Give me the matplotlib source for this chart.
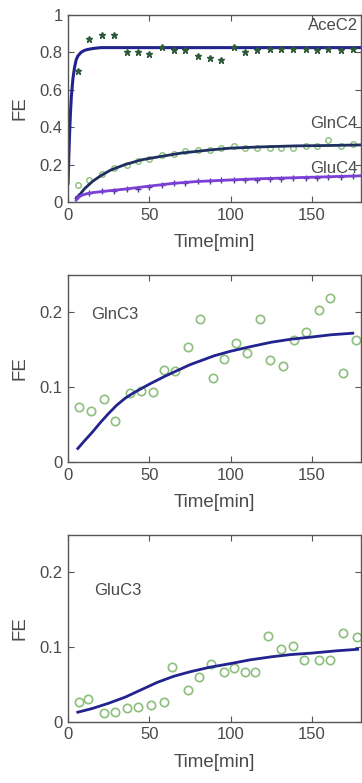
import matplotlib
matplotlib.use("Agg")
from matplotlib import pyplot as plt

plt.rcParams['font.family'] = ['Liberation Sans', 'DejaVu Sans']

# sample times (min)
t_top = [6, 13, 21, 28, 36, 43, 50, 58, 65, 72, 80, 87, 94, 102, 109, 116,
         124, 131, 138, 146, 153, 160, 168, 175]

ace_c2 = [0.70, 0.87, 0.89, 0.89, 0.80, 0.80, 0.79, 0.83, 0.81, 0.81, 0.78, 0.77,
          0.76, 0.83, 0.80, 0.81, 0.815, 0.815, 0.82, 0.815, 0.81, 0.815, 0.81, 0.815]
gln_c4 = [0.09, 0.12, 0.15, 0.18, 0.20, 0.22, 0.23, 0.25, 0.255, 0.27, 0.28, 0.28,
          0.29, 0.30, 0.29, 0.29, 0.29, 0.29, 0.29, 0.30, 0.30, 0.33, 0.30, 0.31]
glu_c4 = [0.03, 0.05, 0.06, 0.06, 0.07, 0.07, 0.08, 0.09, 0.10, 0.10, 0.11, 0.11,
          0.115, 0.115, 0.12, 0.12, 0.125, 0.125, 0.13, 0.13, 0.13, 0.135, 0.135, 0.14]

# model fits
ace_fit_t = [0, 0.5, 1, 1.5, 2, 3, 4, 5, 6, 8, 10, 12, 15, 20, 60, 100, 140, 180]
ace_fit = [0.10, 0.25, 0.38, 0.48, 0.56, 0.66, 0.72, 0.76, 0.78, 0.80, 0.81, 0.815,
           0.82, 0.825, 0.825, 0.825, 0.825, 0.825]
glnc4_fit_t = [5, 7, 10, 15, 20, 26, 35, 45, 56, 70, 87, 100, 120, 140, 160, 180]
glnc4_fit = [0.02, 0.037, 0.07, 0.11, 0.14, 0.17, 0.20, 0.225, 0.242, 0.262, 0.278,
             0.288, 0.295, 0.30, 0.302, 0.305]
gluc4_fit_t = [5, 6, 8, 11, 15, 20, 25, 36, 50, 65, 80, 100, 120, 140, 160, 180]
gluc4_fit = [0.01, 0.022, 0.035, 0.043, 0.05, 0.055, 0.06, 0.07, 0.085, 0.10, 0.11,
             0.118, 0.125, 0.13, 0.135, 0.14]

t_glnc3 = [6.5, 14, 22, 29, 38, 45, 52, 59, 66, 74, 81, 89, 96, 103, 110, 118,
           124, 132, 139, 146, 154, 161, 169, 177]
gln_c3 = [0.074, 0.068, 0.084, 0.055, 0.092, 0.095, 0.094, 0.123, 0.121, 0.153,
          0.191, 0.112, 0.137, 0.159, 0.146, 0.191, 0.136, 0.128, 0.163, 0.174,
          0.203, 0.219, 0.119, 0.163]
glnc3_fit_t = [6, 10, 15, 20, 25, 30, 35, 40, 50, 60, 75, 90, 100, 112, 125, 137,
               150, 162, 175]
glnc3_fit = [0.018, 0.028, 0.040, 0.053, 0.065, 0.076, 0.085, 0.092, 0.104, 0.115,
             0.130, 0.142, 0.148, 0.154, 0.160, 0.164, 0.167, 0.170, 0.172]

t_gluc3 = [6.5, 12, 22, 29, 36, 43, 51, 59, 64, 73.5, 80.6, 88, 96, 102, 109, 115,
           123, 131, 138, 145, 154, 161, 169, 177.5]
glu_c3 = [0.027, 0.031, 0.012, 0.013, 0.018, 0.020, 0.022, 0.027, 0.074, 0.042,
          0.060, 0.078, 0.067, 0.072, 0.067, 0.067, 0.115, 0.098, 0.102, 0.083,
          0.083, 0.083, 0.119, 0.113]
gluc3_fit_t = [6, 15, 25, 35, 45, 55, 65, 75, 87, 100, 112, 125, 137, 150, 165, 178]
gluc3_fit = [0.013, 0.018, 0.025, 0.033, 0.043, 0.053, 0.061, 0.067, 0.073, 0.078,
             0.083, 0.087, 0.090, 0.092, 0.095, 0.097]

txt = '#4a4a4a'
fit_blue = '#23238f'
green = '#8cbf7c'

fig = plt.figure(figsize=(3.62, 7.83), dpi=100)
ax1 = fig.add_axes([0.188, 0.742, 0.809, 0.239])
ax2 = fig.add_axes([0.188, 0.410, 0.809, 0.239])
ax3 = fig.add_axes([0.188, 0.078, 0.809, 0.239])

# top panel
ax1.plot(t_top, ace_c2, '*', color='#2f5a3a', ms=4.5, zorder=3)
ax1.plot(ace_fit_t, ace_fit, '-', color=fit_blue, lw=2.2)
ax1.plot(t_top, gln_c4, 'o', mfc='none', mec=green, ms=4, mew=1)
ax1.plot(glnc4_fit_t, glnc4_fit, '-', color='#1f2f5f', lw=2)
ax1.plot(t_top, glu_c4, '+', color='#503a90', ms=5, mew=1)
ax1.plot(gluc4_fit_t, gluc4_fit, '-', color='#7b3fd6', lw=2)
ax1.set_ylim(0, 1)
ax1.set_yticks([0, 0.2, 0.4, 0.6, 0.8, 1])
ax1.set_yticklabels(['0', '0.2', '0.4', '0.6', '0.8', '1'])
ax1.text(178, 0.945, 'AceC2', ha='right', va='center', color=txt, fontsize=12)
ax1.text(178, 0.42, 'GlnC4', ha='right', va='center', color=txt, fontsize=12)
ax1.text(178, 0.18, 'GluC4', ha='right', va='center', color=txt, fontsize=12)

# middle panel
ax2.plot(t_glnc3, gln_c3, 'o', mfc='none', mec=green, ms=6, mew=1.2)
ax2.plot(glnc3_fit_t, glnc3_fit, '-', color=fit_blue, lw=2)
ax2.text(14, 0.197, 'GlnC3', ha='left', va='center', color=txt, fontsize=12)

# bottom panel
ax3.plot(t_gluc3, glu_c3, 'o', mfc='none', mec=green, ms=6, mew=1.2)
ax3.plot(gluc3_fit_t, gluc3_fit, '-', color=fit_blue, lw=2)
ax3.text(16, 0.175, 'GluC3', ha='left', va='center', color=txt, fontsize=12)

for ax in (ax2, ax3):
    ax.set_ylim(0, 0.25)
    ax.set_yticks([0, 0.1, 0.2])
    ax.set_yticklabels(['0', '0.1', '0.2'])

for ax in (ax1, ax2, ax3):
    ax.set_xlim(0, 180)
    ax.set_xticks([0, 50, 100, 150])
    ax.tick_params(direction='in', top=True, right=True, length=4, width=0.8,
                   labelsize=12, labelcolor=txt, color='#555555', pad=4)
    for s in ax.spines.values():
        s.set_color('#555555')
        s.set_linewidth(1)
    ax.set_xlabel('Time[min]', fontsize=13.5, color=txt, labelpad=8)
    ax.set_ylabel('FE', fontsize=13.5, color=txt, labelpad=8)

fig.savefig('out.png', dpi=100)
